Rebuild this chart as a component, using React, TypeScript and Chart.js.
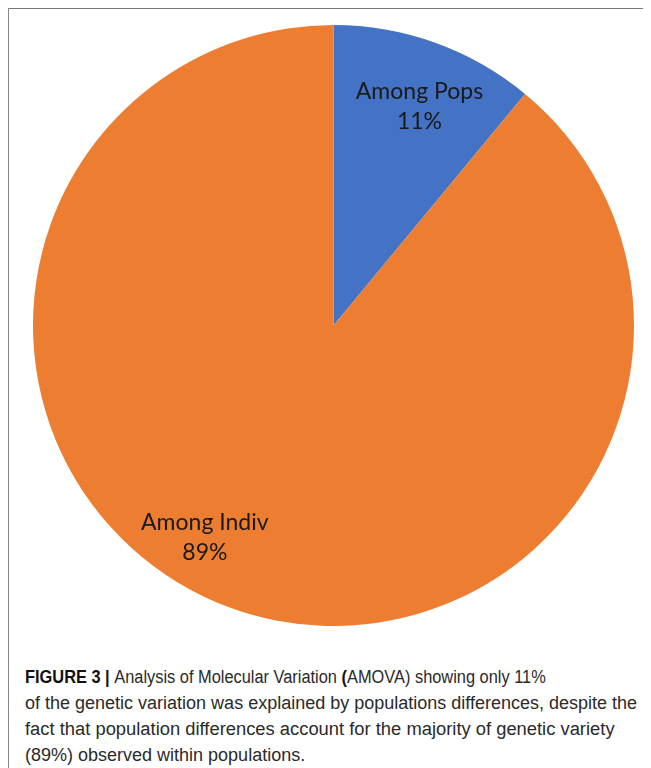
import React, { useEffect, useRef } from "react";
import { Chart, registerables } from "chart.js";

Chart.register(...registerables);

const categories = ["Among Pops", "Among Indiv"];
const percentages = [11, 89];
const sliceColors = ["#4472C4", "#ED7D31"];
const labelAngleShiftDeg = [1.6, 11.5];
const labelRadiusFrac = [0.784, 0.824];

const captionLines: { bold?: boolean; text: string }[][] = [
  [
    { bold: true, text: "FIGURE 3 | " },
    { text: "Analysis of Molecular Variation " },
    { bold: true, text: "(" },
    { text: "AMOVA) showing only 11%" },
  ],
  [{ text: "of the genetic variation was explained by populations differences, despite the" }],
  [{ text: "fact that population differences account for the majority of genetic variety" }],
  [{ text: "(89%) observed within populations." }],
];
const captionLineScale = [0.91, 1.0, 1.02, 1.0];

const labelPlugin = {
  id: "sliceLabels",
  afterDatasetsDraw(chart: any) {
    const meta = chart.getDatasetMeta(0);
    const ctx = chart.ctx;
    ctx.save();
    ctx.font = "23px Lato, 'Open Sans', sans-serif";
    ctx.fillStyle = "#1a1a1a";
    ctx.textAlign = "center";
    ctx.textBaseline = "alphabetic";
    meta.data.forEach((arc: any, i: number) => {
      const p = arc.getProps(["x", "y", "startAngle", "endAngle", "outerRadius"], true);
      const mid = (p.startAngle + p.endAngle) / 2 + (labelAngleShiftDeg[i] * Math.PI) / 180;
      const r = p.outerRadius * labelRadiusFrac[i];
      const cx = p.x + Math.cos(mid) * r;
      const cy = p.y + Math.sin(mid) * r;
      ctx.fillText(categories[i], cx, cy - 7);
      ctx.fillText(percentages[i] + "%", cx, cy + 23);
    });
    ctx.restore();
  },
};

export default function App() {
  const canvasRef = useRef<HTMLCanvasElement | null>(null);

  useEffect(() => {
    if (!canvasRef.current) return;
    const chart = new Chart(canvasRef.current, {
      type: "pie",
      data: {
        labels: categories,
        datasets: [
          {
            data: percentages,
            backgroundColor: sliceColors,
            borderWidth: 0,
          },
        ],
      },
      options: {
        animation: false,
        responsive: false,
        maintainAspectRatio: false,
        layout: { padding: 0 },
        plugins: {
          legend: { display: false },
          tooltip: { enabled: false },
          title: { display: false },
        },
      },
      plugins: [labelPlugin],
    });
    return () => chart.destroy();
  }, []);

  return (
    <div
      style={{
        position: "relative",
        width: 643,
        height: 760,
        overflow: "hidden",
        background: "#fff",
      }}
    >
      <div style={{ position: "absolute", left: 0, top: -1, width: 643, height: 2, background: "#777" }} />
      <div style={{ position: "absolute", left: 0, top: -1, width: 1, height: 770, background: "#888" }} />
      <canvas
        ref={canvasRef}
        width={601}
        height={601}
        style={{ position: "absolute", left: 25, top: 17, width: 601, height: 601 }}
      />
      <div
        style={{
          position: "absolute",
          left: 17,
          top: 656,
          fontFamily: "'Liberation Sans', Arial, sans-serif",
          fontSize: 18,
          lineHeight: "26px",
          color: "#2a2a2a",
          whiteSpace: "nowrap",
        }}
      >
        {captionLines.map((line, li) => (
          <div
            key={li}
            style={{ transform: `scaleX(${captionLineScale[li]})`, transformOrigin: "left center" }}
          >
            {line.map((seg, si) => (
              <span key={si} style={{ fontWeight: seg.bold ? 700 : 400, color: seg.bold ? "#111" : "#2a2a2a" }}>
                {seg.text}
              </span>
            ))}
          </div>
        ))}
      </div>
    </div>
  );
}
